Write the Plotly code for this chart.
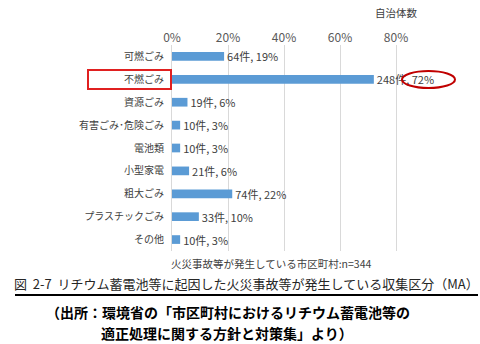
import plotly.graph_objects as go

categories = ["可燃ごみ", "不燃ごみ", "資源ごみ", "有害ごみ･危険ごみ", "電池類", "小型家電", "粗大ごみ", "プラスチックごみ", "その他"]
counts = [64, 248, 19, 10, 10, 21, 74, 33, 10]
percents = [19, 72, 6, 3, 3, 6, 22, 10, 3]
n_total = 344
tick_vals = [0, 0.2, 0.4, 0.6, 0.8]
tick_text = ["0%", "20%", "40%", "60%", "80%"]

shares = [c / n_total for c in counts]
labels = [f"{c}件, {p}%" for c, p in zip(counts, percents)]

FONT = "Noto Sans CJK JP"
W, H = 480, 344
ML, MR, MT, MB = 172, 28, 45, 93
PW, PH = W - ML - MR, H - MT - MB

def px(x):
    return (x - ML) / PW

def py(y):
    return (H - MB - y) / PH

fig = go.Figure(go.Bar(
    x=shares, y=categories, orientation="h",
    marker=dict(color="#5B9BD5", line=dict(width=0)),
    text=labels, textposition="outside", cliponaxis=False, constraintext="none",
    textfont=dict(family=FONT, size=11, color="#404040"),
))

fig.update_layout(
    width=W, height=H, autosize=False,
    margin=dict(l=ML, r=MR, t=MT, b=MB),
    paper_bgcolor="white", plot_bgcolor="white",
    bargap=0.62, showlegend=False,
    font=dict(family=FONT, color="#404040"),
    xaxis=dict(range=[0, 1], side="top", tickvals=tick_vals, ticktext=tick_text,
               showgrid=True, gridcolor="#D9D9D9", gridwidth=1, zeroline=False,
               showline=False, ticks="", tickfont=dict(family=FONT, size=12, color="#595959")),
    yaxis=dict(autorange="reversed", showgrid=False, showline=True, linecolor="#D9D9D9",
               ticks="outside", ticklen=5, tickcolor="rgba(0,0,0,0)",
               tickfont=dict(family=FONT, size=10, color="#404040")),
)

ann = [
    dict(text="自治体数", x=px(396), y=py(12), size=10.5, color="#404040", bold=False),
    dict(text="火災事故等が発生している市区町村:n=" + str(n_total), x=px(271), y=py(263), size=10.5, color="#404040", bold=False),
    dict(text="図  2-7  リチウム蓄電池等に起因した火災事故等が発生している収集区分（MA）", x=px(246), y=py(283), size=13, color="#262626", bold=False),
    dict(text="（出所：環境省の「市区町村におけるリチウム蓄電池等の", x=px(228), y=py(312), size=14, color="#000000", bold=True),
    dict(text="適正処理に関する方針と対策集」より）", x=px(227), y=py(333), size=14, color="#000000", bold=True),
]
for a in ann:
    t = f"<b>{a['text']}</b>" if a["bold"] else a["text"]
    fig.add_annotation(text=t, x=a["x"], y=a["y"], xref="paper", yref="paper",
                       xanchor="center", yanchor="middle", showarrow=False,
                       font=dict(family=FONT, size=a["size"], color=a["color"]))

fig.add_shape(type="line", xref="paper", yref="paper", x0=px(15), x1=px(478), y0=py(295), y1=py(295),
              line=dict(color="#000000", width=2))
fig.add_shape(type="rect", xref="paper", yref="paper", x0=px(88), x1=px(171), y0=py(70), y1=py(89),
              line=dict(color="#E02020", width=2))
fig.add_shape(type="circle", xref="paper", yref="paper", x0=px(402), x1=px(455), y0=py(71), y1=py(88),
              line=dict(color="#C00000", width=2))

fig.write_html("out.html")
